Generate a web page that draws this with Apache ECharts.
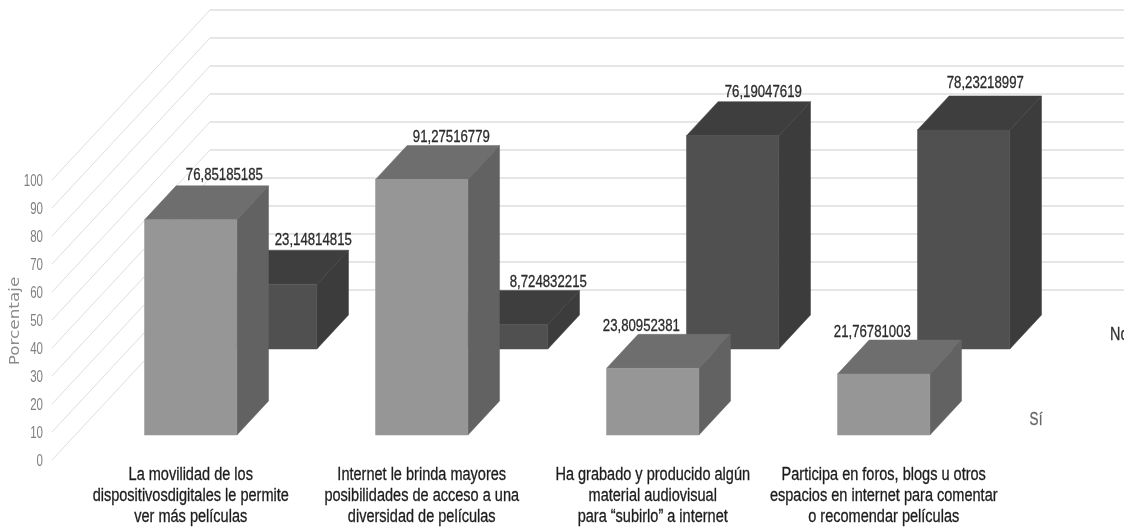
<!DOCTYPE html>
<html>
<head>
<meta charset="utf-8">
<style>html,body{margin:0;padding:0;background:#fff;overflow:hidden}#c{width:1124px;height:531px}</style>
<script src="https://cdn.jsdelivr.net/npm/echarts@6/dist/echarts.min.js"></script>
</head>
<body>
<div id="c"></div>
<script>
const categories = [
  'La movilidad de los\ndispositivosdigitales le permite\nver más películas',
  'Internet le brinda mayores\nposibilidades de acceso a una\ndiversidad de películas',
  'Ha grabado y producido algún\nmaterial audiovisual\npara “subirlo” a internet',
  'Participa en foros, blogs u otros\nespacios en internet para comentar\no recomendar películas'
];
const siValues = [76.85185185, 91.27516779, 23.80952381, 21.76781003];
const noValues = [23.14814815, 8.724832215, 76.19047619, 78.23218997];
const yTicks = [0, 10, 20, 30, 40, 50, 60, 70, 80, 90, 100];

// oblique projection of the depth axis, in pixels
const DEPTH_X = 158, DEPTH_Y = 170;
const BAR_SHARE = 0.4, DEPTH_SHARE = 0.2;
const SI_ROW = 0.147, NO_ROW = 0.653;
const SANS = '"Liberation Sans",sans-serif';
const siNudge = [[2, 1], [-2, 3], [-43, 3], [-43, 3]];
const noNudge = [[11, 1], [15, 3], [-1, 2], [-10, -1]];

function barRenderer(z, colors, nudge) {
  return function (params, api) {
    const i = api.value(0), v = api.value(1);
    const band = api.size([1, 0])[0];
    const w = band * BAR_SHARE;
    const top = api.coord([i, v]), base = api.coord([i, 0]);
    const ox = z * DEPTH_X, oy = z * DEPTH_Y;
    const dx = DEPTH_SHARE * DEPTH_X, dy = DEPTH_SHARE * DEPTH_Y;
    const l = top[0] - w / 2 + ox, r = l + w;
    const t = top[1] - oy, b = base[1] - oy;
    const poly = (pts, fill) => ({ type: 'polygon', shape: { points: pts }, style: { fill, stroke: fill, lineWidth: 0.5 } });
    return {
      type: 'group',
      children: [
        poly([[l, t], [r, t], [r + dx, t - dy], [l + dx, t - dy]], colors.top),
        poly([[r, t], [r + dx, t - dy], [r + dx, b - dy], [r, b]], colors.side),
        poly([[l, t], [r, t], [r, b], [l, b]], colors.front),
        {
          type: 'text',
          x: (l + r) / 2 + dx + nudge[params.dataIndex][0],
          y: t - dy - 11 + nudge[params.dataIndex][1],
          scaleX: 0.8,
          style: {
            text: String(v).replace('.', ','),
            x: 0, y: 0,
            align: 'center', verticalAlign: 'middle',
            fill: '#2a2a2a', stroke: '#2a2a2a', lineWidth: 0.3, font: '16.5px ' + SANS
          }
        }
      ]
    };
  };
}

function wallRenderer(params, api) {
  const v = api.value(1);
  const band = api.size([1, 0])[0];
  const p = api.coord([0, v]);
  const x0 = p[0] - band / 2, y0 = p[1];
  const x1 = x0 + DEPTH_X, y1 = y0 - DEPTH_Y;
  return {
    type: 'group',
    children: [
      { type: 'line', shape: { x1: x0, y1: y0, x2: x1, y2: y1 }, style: { stroke: '#dedede', lineWidth: 1 } },
      { type: 'line', shape: { x1: x1, y1: y1, x2: x1 + band * categories.length, y2: y1 }, style: { stroke: '#e6e6e6', lineWidth: 2 } },
      {
        type: 'text', x: x0 - 9, y: y0 + 2, scaleX: 0.72,
        style: { text: String(v), x: 0, y: 0, align: 'right', verticalAlign: 'middle', fill: '#808080', font: '16px ' + SANS }
      }
    ]
  };
}

function categoryLabelRenderer(params, api) {
  const p = api.coord([api.value(0), 0]);
  return {
    type: 'text',
    x: p[0] + SI_ROW * DEPTH_X,
    y: p[1] + 5,
    scaleX: 0.83,
    style: {
      text: categories[params.dataIndex], x: 0, y: 0,
      align: 'center', verticalAlign: 'top',
      fill: '#1c1c1c', stroke: '#1c1c1c', lineWidth: 0.3, font: '17.5px ' + SANS, lineHeight: 21
    }
  };
}

const chart = echarts.init(document.getElementById('c'), null, { renderer: 'canvas' });
chart.setOption({
  backgroundColor: '#fff',
  animation: false,
  grid: { left: 52, top: 180, width: 924, height: 280, outerBoundsMode: 'none' },
  xAxis: {
    type: 'category',
    data: categories,
    axisLine: { show: false },
    axisTick: { show: false },
    axisLabel: { show: false }
  },
  yAxis: {
    type: 'value', min: 0, max: 100, interval: 10,
    axisLine: { show: false },
    axisTick: { show: false },
    splitLine: { show: false },
    axisLabel: { show: false }
  },
  graphic: [
    { type: 'text', x: 15, y: 321, rotation: Math.PI / 2, scaleX: 1.2, style: { text: 'Porcentaje', x: 0, y: 0, align: 'center', verticalAlign: 'middle', fill: '#8c8c8c', font: '14px "DejaVu Sans",sans-serif' } },
    { type: 'text', x: 1036, y: 420, scaleX: 0.75, style: { text: 'Sí', x: 0, y: 0, align: 'center', verticalAlign: 'middle', fill: '#666', stroke: '#666', lineWidth: 0.3, font: '18px ' + SANS } },
    { type: 'text', x: 1110, y: 335, scaleX: 0.8, style: { text: 'No', x: 0, y: 0, align: 'left', verticalAlign: 'middle', fill: '#333', stroke: '#333', lineWidth: 0.3, font: '18px ' + SANS } }
  ],
  series: [
    { type: 'custom', name: 'Paredes', renderItem: wallRenderer, data: yTicks.map(v => [0, v]), encode: { x: 0, y: 1 }, silent: true, clip: false, z: 1 },
    { type: 'custom', name: 'No', renderItem: barRenderer(NO_ROW, { front: '#505050', top: '#3e3e3e', side: '#3c3c3c' }, noNudge), data: noValues.map((v, i) => [i, v]), encode: { x: 0, y: 1 }, clip: false, z: 2 },
    { type: 'custom', name: 'Sí', renderItem: barRenderer(SI_ROW, { front: '#969696', top: '#6e6e6e', side: '#626262' }, siNudge), data: siValues.map((v, i) => [i, v]), encode: { x: 0, y: 1 }, clip: false, z: 3 },
    { type: 'custom', name: 'Categorías', renderItem: categoryLabelRenderer, data: categories.map((c, i) => [i, 0]), encode: { x: 0, y: 1 }, silent: true, clip: false, z: 4 }
  ]
});
</script>
</body>
</html>
